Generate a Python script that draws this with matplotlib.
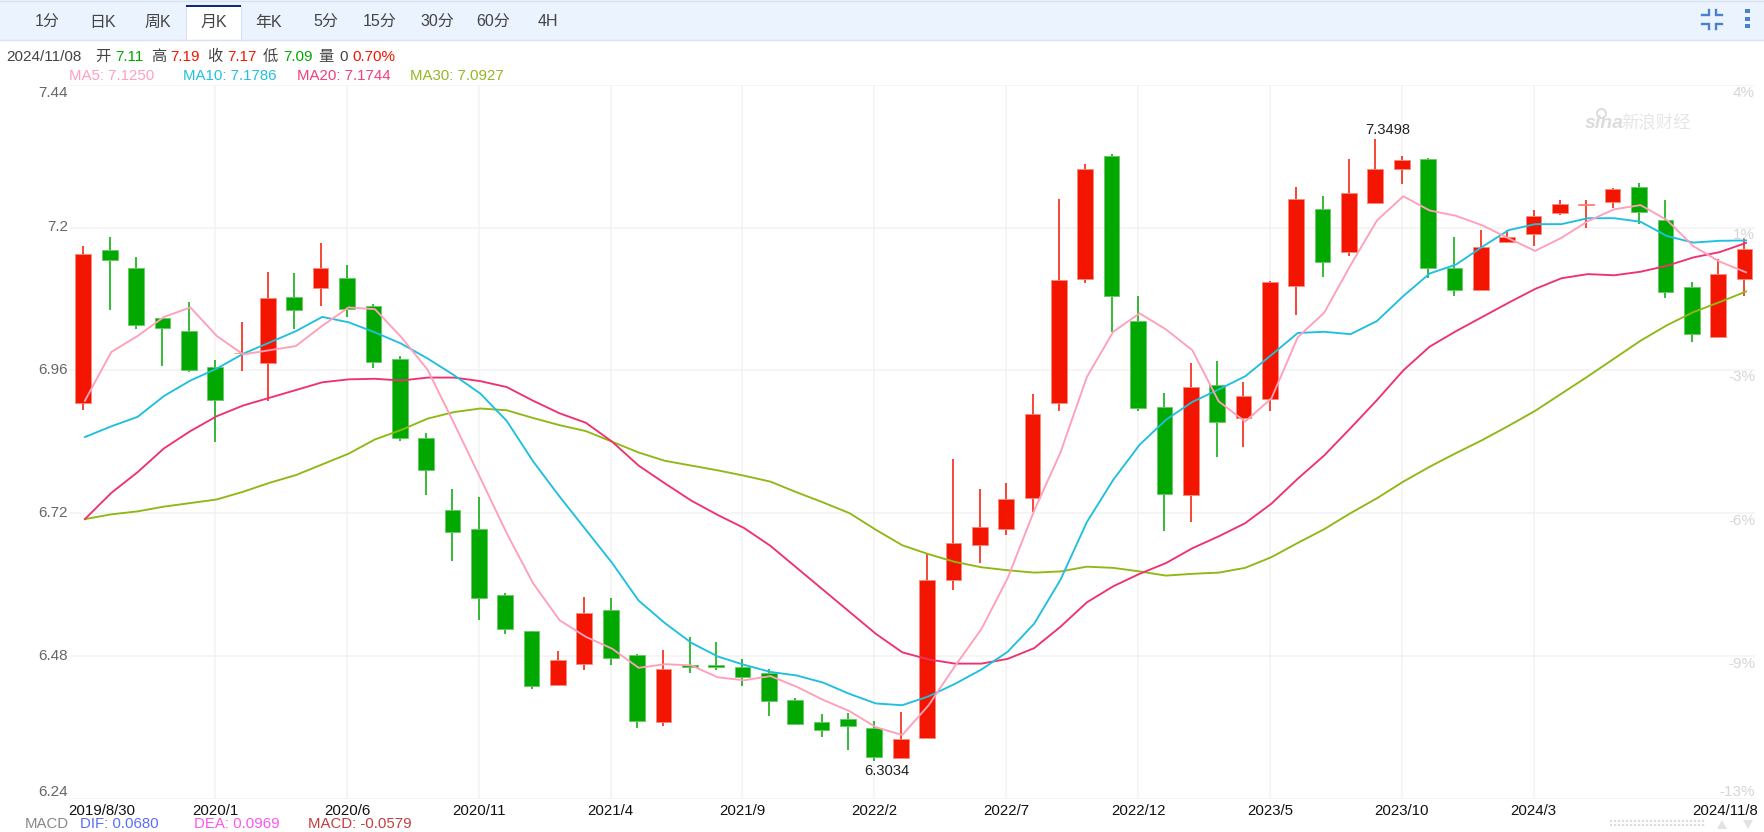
import numpy as np
import matplotlib
matplotlib.use('Agg')
import matplotlib.pyplot as plt
from matplotlib.patches import Rectangle, Polygon

plt.rcParams['font.family'] = ['Liberation Sans', 'Noto Sans CJK SC', 'DejaVu Sans']

# monthly candles 2019/8 .. 2024/11
opens = [6.905, 7.163, 7.133, 7.048, 7.026, 6.965, 6.989, 6.973, 7.083, 7.098, 7.115, 7.068, 6.980, 6.846, 6.726, 6.694,
         6.582, 6.521, 6.431, 6.467, 6.557, 6.481, 6.368, 6.465, 6.465, 6.462, 6.451, 6.406, 6.369, 6.374, 6.359, 6.308,
         6.342, 6.608, 6.666, 6.694, 6.746, 6.906, 7.113, 7.320, 7.043, 6.898, 6.750, 6.936, 6.880, 6.912, 7.102, 7.232,
         7.159, 7.241, 7.299, 7.316, 7.133, 7.096, 7.176, 7.190, 7.224, 7.238, 7.243, 7.268, 7.213, 7.100, 7.016, 7.113]
highs = [7.170, 7.184, 7.150, 7.048, 7.075, 6.977, 7.041, 7.125, 7.124, 7.175, 7.137, 7.071, 6.985, 6.854, 6.760, 6.748,
         6.586, 6.521, 6.489, 6.579, 6.577, 6.484, 6.490, 6.512, 6.504, 6.475, 6.458, 6.409, 6.383, 6.384, 6.371, 6.386,
         6.651, 6.811, 6.760, 6.770, 6.921, 7.249, 7.307, 7.324, 7.086, 6.922, 6.972, 6.976, 6.940, 7.111, 7.268, 7.254,
         7.315, 7.3498, 7.321, 7.318, 7.185, 7.197, 7.197, 7.229, 7.246, 7.247, 7.267, 7.276, 7.247, 7.109, 7.148, 7.183]
lows = [6.894, 7.061, 7.029, 6.968, 6.957, 6.840, 6.959, 6.909, 7.029, 7.069, 7.050, 6.964, 6.841, 6.750, 6.640, 6.540,
        6.516, 6.424, 6.430, 6.457, 6.465, 6.358, 6.362, 6.451, 6.456, 6.430, 6.379, 6.364, 6.343, 6.321, 6.3034, 6.307,
        6.342, 6.590, 6.637, 6.684, 6.722, 6.892, 7.107, 7.025, 6.891, 6.690, 6.705, 6.815, 6.831, 6.891, 7.053, 7.117,
        7.152, 7.240, 7.273, 7.115, 7.085, 7.096, 7.174, 7.169, 7.221, 7.199, 7.234, 7.206, 7.082, 7.007, 7.016, 7.085]
closes = [7.155, 7.146, 7.037, 7.031, 6.961, 6.911, 6.990, 7.081, 7.062, 7.133, 7.063, 6.974, 6.846, 6.792, 6.689, 6.578,
          6.526, 6.429, 6.473, 6.552, 6.476, 6.370, 6.458, 6.462, 6.461, 6.444, 6.404, 6.365, 6.356, 6.362, 6.310, 6.341,
          6.608, 6.670, 6.697, 6.743, 6.886, 7.112, 7.299, 7.085, 6.897, 6.752, 6.932, 6.874, 6.917, 7.108, 7.249, 7.142,
          7.258, 7.299, 7.314, 7.133, 7.096, 7.167, 7.185, 7.219, 7.240, 7.240, 7.265, 7.226, 7.092, 7.021, 7.123, 7.165]

ma5 = [6.909, 6.991, 7.018, 7.050, 7.066, 7.018, 6.987, 6.994, 7.001, 7.035, 7.066, 7.063, 7.016, 6.961, 6.871, 6.779,
       6.686, 6.602, 6.540, 6.512, 6.492, 6.460, 6.466, 6.464, 6.444, 6.439, 6.446, 6.428, 6.406, 6.387, 6.360, 6.347,
       6.397, 6.463, 6.525, 6.611, 6.724, 6.822, 6.949, 7.025, 7.056, 7.029, 6.994, 6.908, 6.874, 6.913, 7.016, 7.057,
       7.137, 7.212, 7.253, 7.229, 7.220, 7.204, 7.182, 7.161, 7.183, 7.211, 7.231, 7.238, 7.213, 7.169, 7.143, 7.125]
ma10 = [6.848, 6.866, 6.882, 6.917, 6.943, 6.963, 6.988, 7.007, 7.026, 7.050, 7.041, 7.024, 7.005, 6.980, 6.952, 6.921,
        6.875, 6.807, 6.748, 6.692, 6.636, 6.573, 6.535, 6.502, 6.479, 6.465, 6.453, 6.447, 6.435, 6.416, 6.400, 6.397,
        6.412, 6.433, 6.457, 6.487, 6.534, 6.608, 6.705, 6.776, 6.835, 6.877, 6.907, 6.928, 6.950, 6.986, 7.023, 7.025,
        7.021, 7.043, 7.085, 7.123, 7.138, 7.168, 7.196, 7.206, 7.206, 7.216, 7.216, 7.210, 7.186, 7.175, 7.178, 7.1786]
ma20 = [6.710, 6.754, 6.789, 6.829, 6.858, 6.883, 6.901, 6.914, 6.927, 6.940, 6.945, 6.946, 6.943, 6.948, 6.948, 6.942,
        6.932, 6.909, 6.888, 6.872, 6.840, 6.800, 6.770, 6.741, 6.717, 6.695, 6.665, 6.628, 6.591, 6.554, 6.517, 6.486,
        6.474, 6.467, 6.467, 6.475, 6.493, 6.529, 6.570, 6.597, 6.618, 6.636, 6.661, 6.681, 6.703, 6.736, 6.778, 6.817,
        6.863, 6.910, 6.960, 7.000, 7.026, 7.050, 7.074, 7.097, 7.115, 7.122, 7.120, 7.126, 7.136, 7.150, 7.159, 7.1744]
ma30 = [6.710, 6.718, 6.723, 6.731, 6.737, 6.743, 6.756, 6.771, 6.784, 6.802, 6.820, 6.844, 6.860, 6.879, 6.890, 6.896,
        6.893, 6.880, 6.868, 6.858, 6.840, 6.822, 6.808, 6.800, 6.792, 6.783, 6.773, 6.755, 6.738, 6.720, 6.692, 6.666,
        6.651, 6.638, 6.629, 6.624, 6.620, 6.622, 6.630, 6.628, 6.622, 6.615, 6.618, 6.620, 6.628, 6.646, 6.670, 6.693,
        6.720, 6.745, 6.773, 6.798, 6.821, 6.843, 6.867, 6.892, 6.921, 6.950, 6.980, 7.010, 7.036, 7.058, 7.075, 7.0927]

y_ticks = [7.44, 7.2, 6.96, 6.72, 6.48, 6.24]
y_tick_labels = ['7.44', '7.2', '6.96', '6.72', '6.48', '6.24']
pct_labels = ['4%', '1%', '-3%', '-6%', '-9%', '-13%']
x_tick_pos = [5, 10, 15, 20, 25, 30, 35, 40, 45, 50, 55]
x_tick_labels = ['2020/1', '2020/6', '2020/11', '2021/4', '2021/9', '2022/2', '2022/7',
                 '2022/12', '2023/5', '2023/10', '2024/3']
first_date = '2019/8/30'
last_date = '2024/11/8'
tabs = ['1分', '日K', '周K', '月K', '年K', '5分', '15分', '30分', '60分', '4H']

W, H = 1765, 832
RED = '#f41500'
GREEN = '#00a800'
x0, x1, ytop, ybot = 69, 1755, 85, 798.6

fig = plt.figure(figsize=(W / 100, H / 100), dpi=100, facecolor='white')
ax = fig.add_axes([x0 / W, 1 - ybot / H, (x1 - x0) / W, (ybot - ytop) / H])

n = len(opens)
x = np.arange(n)
is_up = np.array(closes) >= np.array(opens)
colors = [RED if u else GREEN for u in is_up]
edges = ['#f98a7c' if u else '#66c966' for u in is_up]

ax.vlines(x, lows, highs, colors=colors, linewidth=1.1, zorder=2)
bottoms = np.minimum(opens, closes)
ax.bar(x, np.abs(np.array(closes) - np.array(opens)), bottom=bottoms, width=0.595,
       color=colors, edgecolor=edges, linewidth=0.6, zorder=3)

# the MA lines sit a touch right of the candle centres
line_x = x + 0.06
ax.plot(line_x, ma30, color='#8fb814', lw=1.35, zorder=4)
ax.plot(line_x, ma20, color='#f0316f', lw=1.35, zorder=5)
ax.plot(line_x, ma10, color='#1fbfdf', lw=1.35, zorder=6)
ax.plot(line_x, ma5, color='#ff9fb8', lw=1.35, zorder=7)

ax.set_xlim(-0.543, 63.4)
ax.set_ylim(6.24, 7.44)
ax.set_yticks(y_ticks)
ax.set_xticks(x_tick_pos)
ax.set_xticklabels(x_tick_labels, fontsize=10.8, color='#111111')
ax.set_yticklabels([])
ax.grid(True, color='#f2f2f2', lw=1.1, zorder=0)
ax.set_axisbelow(True)
ax.tick_params(length=0, pad=4)
for s in ax.spines.values():
    s.set_visible(False)

ax.annotate('7.3498', (49, 7.3498), xytext=(12, 9), textcoords='offset pixels', ha='center', va='center',
            fontsize=10.6, color='#222222')
ax.annotate('6.3034', (30, 6.3034), xytext=(12, -10), textcoords='offset pixels', ha='center', va='center',
            fontsize=10.6, color='#222222')

# page chrome in pixel coordinates
ov = fig.add_axes([0, 0, 1, 1], facecolor='none')
ov.set_xlim(0, W)
ov.set_ylim(H, 0)
ov.axis('off')

ov.add_patch(Rectangle((0, 0), W, 39.5, facecolor='#ebf3fe', edgecolor='none'))
ov.plot([0, W], [0.5, 0.5], color='#d9e2f1', lw=1)
ov.plot([0, W], [39.5, 39.5], color='#d9e2f1', lw=1)
ov.add_patch(Rectangle((186, 5), 55.5, 35, facecolor='white', edgecolor='#d9e2f1', lw=0.8))
ov.add_patch(Rectangle((186, 5), 55.5, 1.8, facecolor='#0d2a80', edgecolor='none'))

tab_x = [46.7, 102.6, 158, 214, 269, 326, 380, 437, 493, 548]
for tx, t in zip(tab_x, tabs):
    ov.text(tx, 22, t, ha='center', va='center', fontsize=11.5, color='#444444')

# header line, pieces placed one by one
header = [(6, '2024/11/08', '#444444'), (95, '开', '#444444'), (115.6, '7.11', GREEN), (151, '高', '#444444'),
          (170.7, '7.19', RED), (207, '收', '#444444'), (227, '7.17', RED), (262.5, '低', '#444444'),
          (283, '7.09', GREEN), (318, '量', '#444444'), (339, '0', '#444444'), (352, '0.70%', RED)]
for hx, t, c in header:
    ov.text(hx, 57, t, ha='left', va='center', fontsize=11, color=c)

ma_legend = [(69, 'MA5: 7.1250', '#ffa0be'), (183, 'MA10: 7.1786', '#22c0e0'),
             (297, 'MA20: 7.1744', '#f0407f'), (410, 'MA30: 7.0927', '#93b822')]
for lx, t, c in ma_legend:
    ov.text(lx, 76.5, t, ha='left', va='center', fontsize=10.8, color=c)

# y labels hug the line, the first and last stay inside
left_y = [93, 227.3, 369.7, 513, 656, 791.7]
right_y = [93, 235, 377, 520.7, 664, 791.7]
for ly, t in zip(left_y, y_tick_labels):
    ov.text(68, ly, t, ha='right', va='center', fontsize=11, color='#666666')
for ry, t in zip(right_y, pct_labels):
    ov.text(1755, ry, t, ha='right', va='center', fontsize=11, color='#d6d6d6')

ov.text(68, 811, first_date, ha='left', va='center', fontsize=10.8, color='#111111')
ov.text(1758, 811, last_date, ha='right', va='center', fontsize=10.8, color='#111111')

macd = [(25, 'MACD', '#888888'), (80, 'DIF: 0.0680', '#5b6cff'), (194, 'DEA: 0.0969', '#ff55ee'),
        (308, 'MACD: -0.0579', '#c04040')]
for mx, t, c in macd:
    ov.text(mx, 824, t, ha='left', va='center', fontsize=10.8, color=c)

# compress and menu icons
icon = '#4a80d0'
for px, py in [([1702.5, 1708.7, 1708.7], [15, 15, 9.5]), ([1722, 1716, 1716], [15, 15, 9.5]),
               ([1702.5, 1708.7, 1708.7], [23.5, 23.5, 29]), ([1722, 1716, 1716], [23.5, 23.5, 29])]:
    ov.plot(px, py, color=icon, lw=1.7, solid_joinstyle='miter')
for ky in [11, 18.5, 26]:
    ov.add_patch(Rectangle((1745.5, ky - 2), 4.2, 4, facecolor=icon, edgecolor='none'))

# scroll handle and arrows bottom right
for dy in [820.5, 824.5]:
    ov.plot([1610, 1706], [dy, dy], color='#dddddd', lw=1.6, ls=(0, (1, 0.8)))
ov.add_patch(Polygon([[1717, 829], [1727, 829], [1722, 820]], facecolor='#e3e3e3', edgecolor='none'))
ov.add_patch(Polygon([[1743, 820], [1753, 820], [1748, 829]], facecolor='#e3e3e3', edgecolor='none'))

# watermark
ov.plot([1601], [113], marker='o', ms=6.5, mfc='none', mec='#dcdcdc', mew=1.4)
ov.text(1604, 123, 'sina', ha='center', va='center', fontsize=14, style='italic', weight='bold', color='#dcdcdc')
ov.text(1656, 122, '新浪财经', ha='center', va='center', fontsize=12.5, color='#e6e6e6')

fig.savefig('out.png', dpi=100, facecolor='white')
